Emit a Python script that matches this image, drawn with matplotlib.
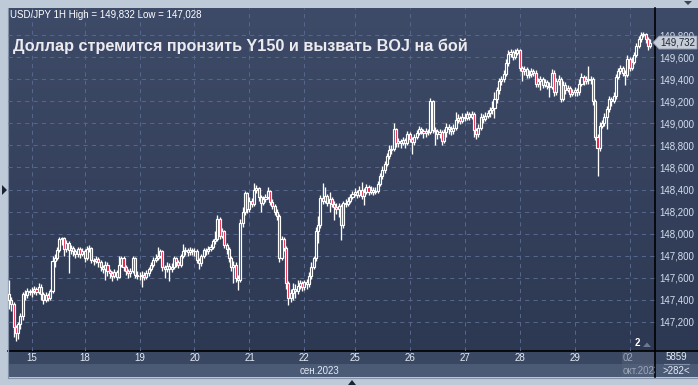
import numpy as np
import matplotlib
matplotlib.use("Agg")
import matplotlib.pyplot as plt
from matplotlib.patches import Rectangle, Polygon

# USD/JPY hourly candles, Sep 14 (afternoon) .. Oct 2 (morning)
first_open = 147.45

closes = [
    # Sep 14
    147.40, 147.36, 147.15, 147.10, 147.18, 147.25, 147.45, 147.44, 147.48, 147.47,
    # Sep 15
    147.48, 147.50, 147.47, 147.52, 147.45, 147.40, 147.44, 147.42, 147.48, 147.75, 147.78, 147.85,
    147.95, 147.96, 147.86, 147.92, 147.85, 147.87, 147.84, 147.82, 147.86, 147.82, 147.84,
    # Sep 18
    147.78, 147.86, 147.87, 147.76, 147.75, 147.77, 147.74, 147.70, 147.68, 147.72, 147.66, 147.64,
    147.62, 147.65, 147.61, 147.72, 147.78, 147.70, 147.66, 147.64, 147.66, 147.78, 147.63, 147.62,
    # Sep 19
    147.62, 147.63, 147.61, 147.64, 147.68, 147.72, 147.76, 147.78, 147.80, 147.84, 147.70, 147.68,
    147.71, 147.68, 147.70, 147.78, 147.74, 147.72, 147.80, 147.84, 147.85, 147.83, 147.85, 147.84,
    # Sep 20
    147.84, 147.76, 147.73, 147.80, 147.85, 147.84, 147.86, 147.88, 147.93, 147.95, 148.13, 147.98,
    148.02, 147.90, 147.86, 147.78, 147.70, 147.72, 147.60, 147.58, 148.10, 148.20, 148.37, 148.22,
    # Sep 21
    148.30, 148.27, 148.40, 148.41, 148.33, 148.28, 148.31, 148.33, 148.39, 148.29, 148.25, 148.20,
    148.16, 147.78, 147.95, 147.87, 147.55, 147.42, 147.46, 147.50, 147.48, 147.53, 147.55, 147.52,
    # Sep 22
    147.56, 147.54, 147.62, 147.70, 147.78, 148.02, 148.08, 148.32, 148.30, 148.34, 148.28,
    148.31, 148.27, 148.24, 148.22, 148.25, 148.08, 148.28, 148.27, 148.30, 148.33, 148.36,
    # Sep 25
    148.38, 148.35, 148.40, 148.34, 148.38, 148.42, 148.38, 148.40, 148.38, 148.39, 148.45, 148.52,
    148.58, 148.63, 148.70, 148.76, 148.77, 148.95, 148.82, 148.84, 148.82, 148.85, 148.82, 148.90,
    # Sep 26
    148.86, 148.83, 148.88, 148.91, 148.95, 148.93, 148.91, 148.93, 148.92, 149.20, 148.94, 148.93,
    148.90, 148.92, 148.84, 148.92, 148.97, 148.95, 148.93, 148.96, 149.03, 149.05, 149.02, 149.06,
    # Sep 27
    149.05, 149.08, 149.06, 149.08, 148.94, 148.90, 148.96, 149.06, 149.04, 149.07, 149.09, 149.12,
    149.14, 149.22, 149.30, 149.38, 149.40, 149.45, 149.55, 149.63, 149.65, 149.60, 149.64, 149.66,
    # Sep 28
    149.50, 149.47, 149.49, 149.44, 149.45, 149.47, 149.46, 149.36, 149.38, 149.40, 149.35, 149.37,
    149.34, 149.33, 149.46, 149.28, 149.38, 149.40, 149.22, 149.35, 149.30, 149.32, 149.27, 149.28,
    # Sep 29
    149.30, 149.28, 149.36, 149.42, 149.38, 149.40, 149.39, 149.40, 149.20, 148.88, 148.78, 148.98,
    149.00, 149.06, 149.13, 149.22, 149.20, 149.25, 149.42, 149.47, 149.50, 149.46, 149.44, 149.58,
    # Oct 2
    149.50, 149.56, 149.62, 149.70, 149.76, 149.80, 149.81, 149.76, 149.70, 149.732,
]

highs = [
    147.58, 147.43, 147.38, 147.17, 147.20, 147.28, 147.47, 147.49, 147.51, 147.50,
    147.52, 147.53, 147.52, 147.55, 147.54, 147.47, 147.47, 147.46, 147.50, 147.80, 147.82, 147.88,
    147.97, 147.97, 147.97, 147.94, 147.93, 147.90, 147.89, 147.86, 147.88, 147.88, 147.87,
    147.86, 147.89, 147.90, 147.88, 147.78, 147.80, 147.79, 147.76, 147.72, 147.75, 147.74, 147.68,
    147.66, 147.68, 147.67, 147.80, 147.80, 147.80, 147.72, 147.68, 147.69, 147.80, 147.79, 147.66,
    147.65, 147.66, 147.65, 147.67, 147.70, 147.74, 147.79, 147.82, 147.88, 147.86, 147.85, 147.72,
    147.74, 147.73, 147.73, 147.80, 147.79, 147.76, 147.82, 147.91, 147.88, 147.87, 147.88, 147.87,
    147.87, 147.86, 147.78, 147.82, 147.87, 147.87, 147.89, 147.91, 147.95, 148.02, 148.17, 148.15,
    148.05, 148.03, 147.92, 147.88, 147.80, 147.75, 147.74, 147.63, 148.13, 148.24, 148.39, 148.38,
    148.33, 148.32, 148.46, 148.44, 148.42, 148.35, 148.34, 148.36, 148.42, 148.40, 148.31, 148.27,
    148.22, 148.18, 147.98, 147.97, 147.89, 147.57, 147.50, 147.55, 147.54, 147.58, 147.58, 147.57,
    147.58, 147.59, 147.65, 147.74, 147.80, 148.06, 148.16, 148.35, 148.46, 148.42, 148.36,
    148.38, 148.33, 148.30, 148.28, 148.28, 148.27, 148.30, 148.31, 148.33, 148.36, 148.39,
    148.41, 148.40, 148.43, 148.47, 148.41, 148.45, 148.44, 148.43, 148.42, 148.42, 148.48, 148.55,
    148.61, 148.66, 148.73, 148.80, 148.80, 149.00, 148.96, 148.87, 148.86, 148.88, 148.87, 148.93,
    148.92, 148.88, 148.90, 148.94, 148.98, 148.97, 148.95, 148.96, 148.95, 149.23, 149.21, 148.97,
    148.95, 148.95, 148.94, 148.95, 149.00, 148.99, 148.98, 148.99, 149.10, 149.08, 149.07, 149.09,
    149.09, 149.11, 149.10, 149.11, 149.10, 148.96, 148.99, 149.09, 149.08, 149.10, 149.12, 149.15,
    149.20, 149.28, 149.33, 149.41, 149.43, 149.48, 149.58, 149.66, 149.67, 149.66, 149.67, 149.68,
    149.67, 149.52, 149.52, 149.51, 149.48, 149.50, 149.49, 149.48, 149.41, 149.43, 149.42, 149.40,
    149.39, 149.37, 149.49, 149.48, 149.41, 149.44, 149.42, 149.38, 149.37, 149.35, 149.34, 149.31,
    149.33, 149.32, 149.40, 149.46, 149.44, 149.43, 149.52, 149.43, 149.42, 149.22, 148.90, 149.01,
    149.03, 149.09, 149.16, 149.25, 149.24, 149.28, 149.45, 149.50, 149.53, 149.52, 149.48, 149.62,
    149.60, 149.60, 149.65, 149.73, 149.79, 149.83, 149.832, 149.82, 149.78, 149.76,
]

lows = [
    147.32, 147.30, 147.06, 147.028, 147.05, 147.14, 147.22, 147.40, 147.42, 147.44,
    147.43, 147.45, 147.44, 147.45, 147.40, 147.36, 147.38, 147.39, 147.40, 147.46, 147.70, 147.76,
    147.83, 147.90, 147.80, 147.83, 147.64, 147.82, 147.80, 147.78, 147.79, 147.78, 147.80,
    147.74, 147.76, 147.83, 147.73, 147.72, 147.73, 147.70, 147.66, 147.64, 147.58, 147.62, 147.60,
    147.57, 147.60, 147.58, 147.60, 147.70, 147.66, 147.63, 147.60, 147.61, 147.64, 147.60, 147.59,
    147.58, 147.52, 147.58, 147.59, 147.62, 147.66, 147.70, 147.74, 147.76, 147.78, 147.66, 147.60,
    147.65, 147.57, 147.65, 147.68, 147.70, 147.69, 147.70, 147.78, 147.81, 147.80, 147.81, 147.81,
    147.80, 147.73, 147.68, 147.71, 147.78, 147.81, 147.82, 147.84, 147.86, 147.91, 147.93, 147.95,
    147.96, 147.87, 147.82, 147.74, 147.66, 147.55, 147.56, 147.49, 147.56, 148.06, 148.17, 148.19,
    148.20, 148.24, 148.25, 148.37, 148.30, 148.20, 148.26, 148.29, 148.31, 148.26, 148.22, 148.17,
    148.12, 147.74, 147.76, 147.84, 147.50, 147.35, 147.38, 147.40, 147.42, 147.45, 147.50, 147.48,
    147.49, 147.50, 147.52, 147.59, 147.68, 147.75, 147.92, 148.05, 148.27, 148.28, 148.25,
    148.20, 148.24, 148.12, 148.18, 148.15, 147.94, 148.05, 148.24, 148.25, 148.28, 148.31,
    148.34, 148.32, 148.33, 148.31, 148.26, 148.36, 148.35, 148.36, 148.35, 148.36, 148.37, 148.43,
    148.50, 148.55, 148.61, 148.68, 148.72, 148.75, 148.79, 148.79, 148.78, 148.80, 148.78, 148.80,
    148.83, 148.72, 148.80, 148.86, 148.89, 148.90, 148.87, 148.88, 148.89, 148.90, 148.91, 148.80,
    148.86, 148.87, 148.80, 148.82, 148.88, 148.90, 148.89, 148.90, 148.94, 149.00, 148.99, 149.00,
    149.02, 149.03, 149.03, 149.04, 148.88, 148.86, 148.88, 148.94, 149.00, 149.02, 149.05, 149.06,
    149.08, 149.05, 149.18, 149.27, 149.35, 149.37, 149.43, 149.52, 149.60, 149.57, 149.58, 149.62,
    149.47, 149.38, 149.44, 149.41, 149.41, 149.42, 149.43, 149.33, 149.33, 149.30, 149.32, 149.33,
    149.31, 149.24, 149.31, 149.25, 149.26, 149.35, 149.19, 149.20, 149.27, 149.28, 149.24, 149.25,
    149.25, 149.25, 149.26, 149.34, 149.35, 149.36, 149.36, 149.36, 149.17, 148.85, 148.52, 148.75,
    148.96, 148.98, 148.95, 149.10, 149.16, 149.18, 149.22, 149.40, 149.45, 149.43, 149.35, 149.42,
    149.47, 149.48, 149.54, 149.60, 149.68, 149.74, 149.78, 149.73, 149.66, 149.68,
]

day_labels = ["15", "18", "19", "20", "21", "22", "25", "26", "27", "28", "29", "02"]
day_start_idx = [10, 33, 57, 81, 105, 129, 151, 175, 199, 223, 247, 271]
price_ticks = [147.2, 147.4, 147.6, 147.8, 148.0, 148.2, 148.4, 148.6, 148.8, 149.0, 149.2, 149.4, 149.6, 149.8]
last_price = 149.732

title = "Доллар стремится пронзить Y150 и вызвать BOJ на бой"
header = "USD/JPY 1H High = 149,832 Low = 147,028"

W, H = 698, 385
FRAME = "#bfcad8"
BG_TOP = "#3e4b68"
BG_BOT = "#2d3852"
GRID = "#56658a"
RED = "#e8173c"
FONT = "Liberation Sans"

fig = plt.figure(figsize=(W / 100, H / 100), dpi=100)
fig.patch.set_facecolor(FRAME)

# pixel-space background layer
bg = fig.add_axes([0, 0, 1, 1], zorder=0)
bg.set_xlim(0, W)
bg.set_ylim(H, 0)
bg.axis("off")
grad = np.linspace(0, 1, 256).reshape(-1, 1)
cmap = matplotlib.colors.LinearSegmentedColormap.from_list("bgc", [BG_TOP, BG_BOT])
bg.imshow(grad, cmap=cmap, extent=[8, W, 351, 8], aspect="auto")
bg.add_patch(Rectangle((8, 351), W - 8, 13, color="#3a4762", lw=0))
bg.add_patch(Rectangle((8, 364), W - 8, 13, color="#4b5a75", lw=0))
bg.add_patch(Rectangle((622, 351), 33, 26, color="#56627a", alpha=0.55, lw=0))
bg.plot([8, W], [351, 351], color="black", lw=1.2)
bg.plot([655, 655], [8, 377], color="black", lw=1.2)
bg.plot([7.5, 7.5], [8, 377], color="#8593aa", lw=0.8)
bg.plot([8, W], [377.5, 377.5], color="#8593aa", lw=0.8)

# candles
ax = fig.add_axes([8 / W, (H - 351) / H, 647 / W, 343 / H], zorder=1)
ax.patch.set_alpha(0)
for s in ax.spines.values():
    s.set_visible(False)
ax.set_xlim(-0.44, 282.1)
ax.set_ylim(146.937, 150.045)

for p in price_ticks:
    ax.axhline(p, color=GRID, lw=0.75, ls=(0, (4, 4)), zorder=1)
for d in day_start_idx:
    ax.axvline(d, color=GRID, lw=0.75, ls=(0, (4, 4)), zorder=1)

c = np.array(closes)
o = np.array([first_open] + closes[:-1])
x = np.arange(len(c))
up = c >= o
ax.vlines(x, lows, highs, color="white", lw=0.95, zorder=2)
ax.bar(x[up], (c - o)[up], bottom=o[up], width=0.9, color="#36435f",
       edgecolor="white", linewidth=0.85, zorder=3)
ax.bar(x[~up], (o - c)[~up], bottom=c[~up], width=0.9, color=RED,
       edgecolor="white", linewidth=0.85, zorder=3)

ax.set_xticks([])
ax.yaxis.tick_right()
ax.set_yticks(price_ticks)
ax.set_yticklabels([f"{p:.3f}".replace(".", ",") for p in price_ticks],
                   fontsize=7, color="#d4deee", family=FONT)
ax.tick_params(axis="y", length=0, pad=3)

# overlay texts in pixel space
ov = fig.add_axes([0, 0, 1, 1], zorder=4)
ov.set_xlim(0, W)
ov.set_ylim(H, 0)
ov.axis("off")
ov.text(10, 15.5, header, fontsize=7, color="white", family=FONT, va="center", ha="left")
ov.text(13, 46, title, fontsize=11.7, color="#ecebef", family=FONT, weight="bold",
        va="center", ha="left")

px_per_bar = 647 / (282.1 + 0.44)
for lab, d in zip(day_labels, day_start_idx):
    xp = 8 + (d + 0.44) * px_per_bar
    if lab == "02":
        ov.text(623, 358, lab, fontsize=7, color="#9aa6ba", family=FONT, va="center", ha="left")
    else:
        ov.text(xp, 358, lab, fontsize=7, color="#e4ebf5", family=FONT, va="center", ha="center")
ov.text(319, 370.5, "сен.2023", fontsize=7, color="#e4ebf5", family=FONT, va="center", ha="center")
t = ov.text(623, 370.5, "окт.2023", fontsize=7, color="#9aa6ba", family=FONT, va="center", ha="left")
t.set_clip_path(Rectangle((622, 364), 33, 13, transform=ov.transData))
t.set_clip_on(True)

ov.text(676.5, 357, "5859", fontsize=7, color="#e4ebf5", family=FONT, va="center", ha="center")
ov.plot([664, 689], [364, 364], color="#8090a8", lw=0.8)
ov.text(676.5, 371, ">282<", fontsize=7, color="#e4ebf5", family=FONT, va="center", ha="center")

ov.text(637, 343, "2", fontsize=7, color="white", family=FONT, weight="bold", va="center", ha="center")
ov.add_patch(Polygon([[643, 347], [647, 342.5], [651, 347]], color="#6c7890", lw=0))

# last price tag (sits over the 149,800 label, as in the terminal)
y_tag = 8 + (150.045 - last_price) / (150.045 - 146.937) * 343
ov.add_patch(Polygon([[653, y_tag], [659, y_tag - 6.5], [697, y_tag - 6.5],
                      [697, y_tag + 6.5], [659, y_tag + 6.5]],
                     facecolor="#c8ced8", edgecolor="#8a96aa", lw=0.6))
ov.text(677.5, y_tag, f"{last_price:.3f}".replace(".", ","), fontsize=7, color="#1b2638",
        family=FONT, va="center", ha="center")

# small frame markers
ov.add_patch(Polygon([[2, 185], [7, 190], [2, 195]], color="#1c2433", lw=0))
ov.add_patch(Polygon([[684, 1], [692, 1], [688, 5]], color="#3a4556", lw=0))
ov.add_patch(Polygon([[348, 385], [352, 380], [356, 385]], color="#1c2433", lw=0))

fig.savefig("out.png", dpi=100, facecolor=fig.get_facecolor())
